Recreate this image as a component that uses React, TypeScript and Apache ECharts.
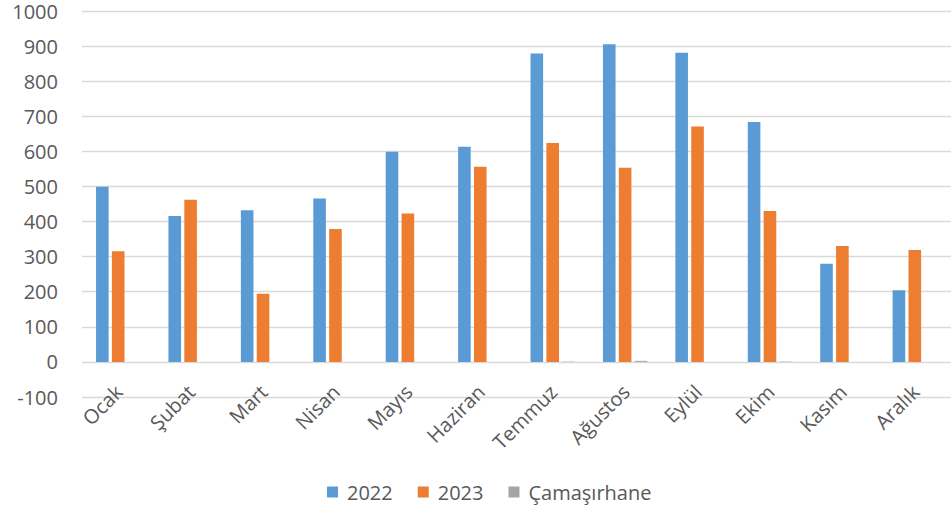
import React, { useEffect, useRef } from "react";
import * as echarts from "echarts";

const categories = ["Ocak", "Şubat", "Mart", "Nisan", "Mayıs", "Haziran", "Temmuz", "Ağustos", "Eylül", "Ekim", "Kasım", "Aralık"];
const values2022 = [499, 416, 432, 466, 599, 613, 879, 905, 881, 684, 280, 204];
const values2023 = [315, 462, 194, 379, 423, 556, 624, 553, 671, 430, 330, 319];
const valuesCamasirhane = [0, 0, 0, 0, 0, 0, 1, 3, 0, 1, 0, 0];
const seriesNames = ["2022", "2023", "Çamaşırhane"];

export default function App() {
  const ref = useRef<HTMLDivElement>(null);
  useEffect(() => {
    if (!ref.current) return;
    const chart = echarts.init(ref.current, null, { renderer: "svg" });
    const font = "Open Sans";
    const textColor = "#595959";
    const barBase = {
      type: "bar" as const,
      barWidth: 12.6,
      barGap: "26%",
    };
    chart.setOption({
      animation: false,
      backgroundColor: "#ffffff",
      color: ["#5B9BD5", "#ED7D31", "#A5A5A5"],
      grid: { left: 82, right: -5, top: 11, bottom: 114, containLabel: false },
      legend: {
        data: seriesNames,
        left: 322,
        top: 477,
        itemWidth: 11,
        itemHeight: 11,
        itemGap: 25,
        icon: "rect",
        textStyle: { color: textColor, fontSize: 20, fontFamily: font, padding: [0, 0, 0, 4] },
      },
      xAxis: {
        type: "category",
        data: categories,
        position: "bottom",
        axisLine: { show: false },
        axisTick: { show: false },
        axisLabel: {
          rotate: 45,
          color: textColor,
          fontSize: 20,
          fontFamily: font,
          margin: -8,
          padding: [0, -1, 0, 0],
          interval: 0,
        },
      },
      yAxis: {
        type: "value",
        min: -100,
        max: 1000,
        interval: 100,
        axisLine: { show: false },
        axisTick: { show: false },
        axisLabel: {
          color: textColor,
          fontSize: 20,
          lineHeight: 16,
          fontFamily: font,
          margin: 24,
          formatter: (v: number) => String(v),
        },
        splitLine: { lineStyle: { color: "#d9d9d9", width: 1.3 } },
      },
      series: [
        { ...barBase, name: seriesNames[0], data: values2022 },
        { ...barBase, name: seriesNames[1], data: values2023 },
        { ...barBase, name: seriesNames[2], data: valuesCamasirhane },
      ],
    });
    return () => chart.dispose();
  }, []);
  return <div ref={ref} style={{ position: "fixed", left: 0, top: 0, width: 951, height: 511 }} />;
}
